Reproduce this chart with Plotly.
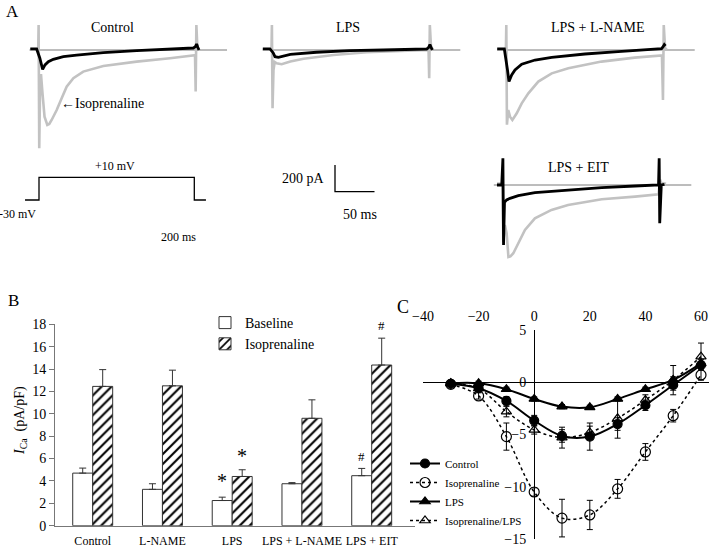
import plotly.graph_objects as go

W, H = 709, 547
FONT = "Liberation Serif"

# ================= Panel A: current traces (time ms, current pA) =================
ctrl_base_t = [-11, -3, 1, 4.6, 7.6, 11.8, 18.1, 30.8, 47.7, 81.4, 123.6, 165.8, 195.4, 198, 199.5, 201, 202.5]
ctrl_base_i = [8, 8, -60, -145, -112, -88, -70, -50, -38, -20, -5, 7, 15, 25, 45, 20, 0]
ctrl_iso_t = [-11, -1, -0.5, 0.3, 1.2, 2.5, 4.5, 7, 10.5, 13, 16, 22.4, 28.7, 35, 43.5, 56, 81.4, 123.6,
              165.8, 195.4, 197.5, 198.3, 199.2, 200.5, 203]
ctrl_iso_i = [5, 5, 187, -737, -350, -180, -330, -500, -562, -555, -525, -450, -362, -275, -212, -162, -120, -87,
              -62, -45, -40, -312, 187, 10, 5]

lps_base_t = [-12, -3, 1, 3.4, 7.7, 22.8, 56, 98, 140.6, 195.4, 198, 199.5, 201, 202.5]
lps_base_i = [8, 8, -20, -50, -55, -32, -17, -5, 0, 7.5, 20, 40, 20, 0]
lps_iso_t = [-12, -1, -0.5, 0.3, 1.5, 3, 5.5, 11.8, 22.8, 39.6, 77.6, 119.6, 162.6, 195.4, 197.8, 198.6, 199.4, 201, 204]
lps_iso_i = [5, 5, 187, -437, -150, -90, -100, -107, -87, -65, -37, -17, -7, 0, 0, -212, 187, 15, 5]

lname_base_t = [-12, -3, 1, 2.9, 6.3, 10.5, 19, 35.9, 57, 99, 141, 192, 196, 198, 199.5, 201]
lname_base_i = [8, 8, -150, -237, -187, -150, -107, -75, -55, -30, -12, 8, 10, 25, 40, 30]
lname_iso_t = [-12, -1, -0.5, 0.3, 2, 4.2, 7.2, 12.7, 19, 27.4, 40, 57, 78, 120, 162, 193.6, 196.5, 197.8,
               198.8, 200.5, 203]
lname_iso_i = [5, 5, 187, -560, -450, -500, -525, -475, -400, -325, -237, -175, -137, -87, -57, -42, -40, -375,
               187, 10, 5]

eit_base_t = [-8, -2, -0.5, 0.3, 1.5, 4.2, 8.5, 19, 40, 82, 124.6, 166.7, 194, 196.5, 197.3, 198, 200, 204]
eit_base_i = [0, 0, 200, -450, -130, -112, -100, -80, -57, -37, -20, -7.5, 0, 0, 200, -287, 0, 5]
eit_iso_t = [-8, -1.5, -0.8, 0, 2, 4.2, 6.5, 9, 12.7, 19, 27.4, 40, 61, 82, 124.6, 166.7, 194, 196.5,
             198.5, 200, 202, 206]
eit_iso_i = [10, 10, 0, -430, -300, -362, -540, -535, -512, -437, -337, -250, -187, -150, -107, -87, -75, -70,
             40, 10, 15, 10]

zero_t = [-12, 238]
zero_i = [0, 0]

prot_t = [-18, 0, 0, 200, 200, 215]
prot_v = [-30, -30, 10, 10, -30, -30]

scale_t = [0, 0, 50]
scale_i = [200, 0, 0]

# ================= Panel B: bar chart =================
b_categories = ["Control", "L-NAME", "LPS", "LPS + L-NAME", "LPS + EIT"]
b_baseline = [4.7, 3.25, 2.25, 3.75, 4.47]
b_baseline_err = [0.45, 0.5, 0.3, 0.1, 0.65]
b_iso = [12.45, 12.5, 4.4, 9.6, 14.36]
b_iso_err = [1.5, 1.4, 0.6, 1.65, 2.4]
b_marks_base = ["", "", "*", "", "#"]
b_marks_base_y = [0, 0, 4.0, 0, 6.2]
b_marks_iso = ["", "", "*", "", "#"]
b_marks_iso_y = [0, 0, 6.2, 0, 17.85]

# ================= Panel C: I-V curves =================
c_voltage = [-30, -20, -10, 0, 10, 20, 30, 40, 50, 60]
c_control = [-0.16, -0.57, -1.79, -3.67, -5.14, -5.2, -4.0, -2.2, -0.26, 1.65]
c_control_err = [0.1, 0.2, 0.4, 0.5, 0.6, 1.3, 0.6, 0.5, 0.5, 0.3]
c_iso = [-0.2, -1.31, -5.2, -10.5, -13.0, -12.7, -10.2, -6.67, -3.2, 0.7]
c_iso_err = [0.1, 0.3, 1.3, 0.4, 1.8, 1.4, 0.9, 0.8, 0.6, 0.5]
c_lps = [-0.1, -0.1, -0.67, -1.6, -2.33, -2.4, -1.6, -0.67, 0.22, 1.8]
c_lps_err = [0.1, 0.2, 0.2, 0.2, 0.2, 0.2, 0.2, 0.2, 0.3, 0.4]
c_isolps = [-0.1, -0.6, -2.81, -4.56, -5.3, -4.8, -3.45, -1.7, 0.2, 2.45]
c_isolps_err = [0.1, 0.2, 0.5, 0.4, 1.0, 0.6, 1.9, 0.5, 1.4, 1.3]

# ---------------- layout helpers (pixel boxes -> paper domains) ----------------
SX, SY = 0.79, 0.1333  # px per ms, px per pA


def clamp(v):
    return min(1.0, max(0.0, v))


def xdom(x0, x1):
    return [clamp(x0 / W), clamp(x1 / W)]


def ydom(y0, y1):
    return [clamp(1 - y1 / H), clamp(1 - y0 / H)]


def px_axes(x0, x1, y0, y1, ox, oy, sx, sy):
    xa = dict(domain=xdom(x0, x1), range=[(x0 - ox) / sx, (x1 - ox) / sx], visible=False, automargin=False)
    ya = dict(domain=ydom(y0, y1), range=[(oy - y1) / sy, (oy - y0) / sy], visible=False, automargin=False)
    return xa, ya


fig = go.Figure()
GRAY = "#c2c2c2"
ZGRAY = "#7a7a7a"

panels = [
    (ctrl_base_t, ctrl_base_i, ctrl_iso_t, ctrl_iso_i, 1),
    (lps_base_t, lps_base_i, lps_iso_t, lps_iso_i, 2),
    (lname_base_t, lname_base_i, lname_iso_t, lname_iso_i, 3),
    (eit_base_t, eit_base_i, eit_iso_t, eit_iso_i, 4),
]
for bt, bi, it, ii, k in panels:
    xa, ya = ("x" if k == 1 else f"x{k}"), ("y" if k == 1 else f"y{k}")
    fig.add_trace(go.Scatter(x=zero_t, y=zero_i, mode="lines", line=dict(color=ZGRAY, width=1),
                             xaxis=xa, yaxis=ya, showlegend=False, hoverinfo="skip"))
    fig.add_trace(go.Scatter(x=it, y=ii, mode="lines", line=dict(color=GRAY, width=2.6),
                             xaxis=xa, yaxis=ya, showlegend=False))
    fig.add_trace(go.Scatter(x=bt, y=bi, mode="lines", line=dict(color="black", width=2.8),
                             xaxis=xa, yaxis=ya, showlegend=False))

fig.add_trace(go.Scatter(x=prot_t, y=prot_v, mode="lines", line=dict(color="black", width=1.3),
                         xaxis="x5", yaxis="y5", showlegend=False))
fig.add_trace(go.Scatter(x=scale_t, y=scale_i, mode="lines", line=dict(color="black", width=1.3),
                         xaxis="x6", yaxis="y6", showlegend=False))

# ---------------- Panel B ----------------
fig.add_trace(go.Bar(x=b_categories, y=b_baseline, name="Baseline",
                     marker=dict(color="white", line=dict(color="#333", width=1)),
                     error_y=dict(type="data", array=b_baseline_err, arrayminus=[0] * 5, symmetric=False,
                                  color="#333", thickness=1, width=3.5),
                     xaxis="x7", yaxis="y7", legend="legend2"))
fig.add_trace(go.Bar(x=b_categories, y=b_iso, name="Isoprenaline",
                     marker=dict(color="white", line=dict(color="#333", width=1),
                                 pattern=dict(shape="/", fgcolor="black", bgcolor="white", size=7, solidity=0.3)),
                     error_y=dict(type="data", array=b_iso_err, arrayminus=[0] * 5, symmetric=False,
                                  color="#333", thickness=1, width=3.5),
                     xaxis="x7", yaxis="y7", legend="legend2"))

# ---------------- Panel C ----------------
c_series = [
    ("Control", c_control, c_control_err, "solid", 2, "circle", 9),
    ("Isoprenaline", c_iso, c_iso_err, "dot", 1.5, "circle-open", 10),
    ("LPS", c_lps, c_lps_err, "solid", 2, "triangle-up", 9),
    ("Isoprenaline/LPS", c_isolps, c_isolps_err, "dot", 1.5, "triangle-up-open", 9),
]
for name, vals, errs, dash, lw, sym, ms in c_series:
    fig.add_trace(go.Scatter(x=c_voltage, y=vals, name=name, mode="lines+markers",
                             line=dict(color="black", width=lw, dash=dash, shape="spline", smoothing=1.0),
                             marker=dict(symbol=sym, size=ms, color="black",
                                         line=dict(color="black", width=1.2)),
                             error_y=dict(type="data", array=errs, color="black", thickness=1, width=3),
                             xaxis="x8", yaxis="y8", legend="legend"))

# axes
ax = {}
ax["xaxis"], ax["yaxis"] = px_axes(20, 235, 15, 160, 39, 50, SX, SY)
ax["xaxis2"], ax["yaxis2"] = px_axes(255, 470, 15, 160, 272.3, 50, SX, SY)
ax["xaxis3"], ax["yaxis3"] = px_axes(490, 705, 15, 150, 506.7, 50, SX, SY)
ax["xaxis4"], ax["yaxis4"] = px_axes(490, 705, 152, 268, 503.3, 185, SX, SY)
ax["xaxis5"], ax["yaxis5"] = px_axes(15, 215, 170, 210, 39, 200, 155.3 / 200, 22.7 / 40)
ax["yaxis5"]["range"] = [ax["yaxis5"]["range"][0] - 30, ax["yaxis5"]["range"][1] - 30]
ax["xaxis6"], ax["yaxis6"] = px_axes(320, 390, 155, 200, 335, 191.7, SX, SY)
for k in range(2, 7):
    ax[f"xaxis{k}"]["anchor"] = f"y{k}"
    ax[f"yaxis{k}"]["anchor"] = f"x{k}"

# Panel B axes
bx0, bx1 = 55, 415
cat_px = 69.75
ax["xaxis7"] = dict(domain=xdom(bx0, bx1), anchor="y7", type="category",
                    range=[-(92.7 - bx0) / cat_px, 4 + (bx1 - 371.7) / cat_px],
                    showline=True, linecolor="#777", linewidth=1, ticks="", tickangle=0,
                    tickfont=dict(family=FONT, size=12, color="black"), showgrid=False, zeroline=False,
                    ticklabelstandoff=4, automargin=False)
ax["yaxis7"] = dict(domain=ydom(324.3, 525.7), anchor="x7", range=[0, 18], dtick=2,
                    showline=True, linecolor="#777", linewidth=1, ticks="outside", ticklen=5, tickcolor="#777",
                    tickfont=dict(family=FONT, size=14, color="black"), showgrid=False, zeroline=False,
                    automargin=False)

# Panel C axes
cx0, cx1 = 423, 709
c_r = [-40, -40 + (cx1 - cx0) / 2.78]
ax["xaxis8"] = dict(domain=xdom(cx0, cx1), anchor="y8", range=c_r, side="top", showline=False,
                    tickvals=[-40, -20, 0, 20, 40, 60], ticks="", showgrid=False,
                    zeroline=True, zerolinecolor="black", zerolinewidth=1, automargin=False,
                    tickfont=dict(family=FONT, size=14, color="black"), ticklabelstandoff=5)
ypos = (cx0 + (0 - c_r[0]) / (c_r[1] - c_r[0]) * (cx1 - cx0)) / W
ax["yaxis8"] = dict(domain=ydom(330, 539), anchor="free", position=ypos, range=[-15, 5],
                    tickvals=[-15, -10, -5, 0, 5], showline=False, ticks="", showgrid=False,
                    zeroline=True, zerolinecolor="black", zerolinewidth=1, automargin=False,
                    tickfont=dict(family=FONT, size=14, color="black"), ticklabelstandoff=8)

annotations = []


def txt(s, x, y, size, xanchor="center", angle=0):
    annotations.append(dict(text=s, x=x / W, y=1 - y / H, xref="paper", yref="paper", showarrow=False,
                            xanchor=xanchor, yanchor="middle", textangle=angle,
                            font=dict(family=FONT, size=size, color="black")))


txt("A", 12, 11, 17)
txt("Control", 112.5, 27, 14)
txt("LPS", 348, 27, 14)
txt("LPS + L-NAME", 597, 27, 14)
txt("LPS + EIT", 578, 167, 14)
txt("←Isoprenaline", 59, 104, 14, "left")
txt("+10 mV", 115, 166, 12)
txt("-30 mV", 17, 214, 12)
txt("200 ms", 178, 237, 12)
txt("200 pA", 303, 179, 14)
txt("50 ms", 360, 214, 14)
txt("B", 13, 300, 17)
txt("C", 403, 307, 18)
txt("<i>I</i><sub>Ca</sub>  (pA/pF)", 20, 421, 14, angle=-90)

for cat, m, yv in zip(b_categories, b_marks_base, b_marks_base_y):
    if m:
        annotations.append(dict(text=m, x=cat, y=yv, xref="x7", yref="y7", showarrow=False, xshift=-10,
                                font=dict(family=FONT, size=20 if m == "*" else 13, color="black")))
for cat, m, yv in zip(b_categories, b_marks_iso, b_marks_iso_y):
    if m:
        annotations.append(dict(text=m, x=cat, y=yv, xref="x7", yref="y7", showarrow=False, xshift=10,
                                font=dict(family=FONT, size=20 if m == "*" else 13, color="black")))

fig.update_layout(
    template="none",
    width=W, height=H, margin=dict(l=0, r=0, t=0, b=0, autoexpand=False),
    paper_bgcolor="white", plot_bgcolor="white",
    font=dict(family=FONT, color="black"),
    bargap=0.427, bargroupgap=0, barmode="group",
    annotations=annotations,
    legend=dict(x=405 / W, y=1 - 449 / H, xanchor="left", yanchor="top", bgcolor="rgba(0,0,0,0)",
                font=dict(family=FONT, size=11, color="black"), itemwidth=30, tracegroupgap=0),
    legend2=dict(x=205 / W, y=1 - 307 / H, xanchor="left", yanchor="top", bgcolor="rgba(0,0,0,0)",
                 font=dict(family=FONT, size=14, color="black"), itemwidth=30),
    **ax,
)

fig.write_html("out.html", config={"displayModeBar": False},
               post_script="document.body.style.margin='0px';document.body.style.padding='0px';"
                           "document.body.style.overflow='hidden';")
